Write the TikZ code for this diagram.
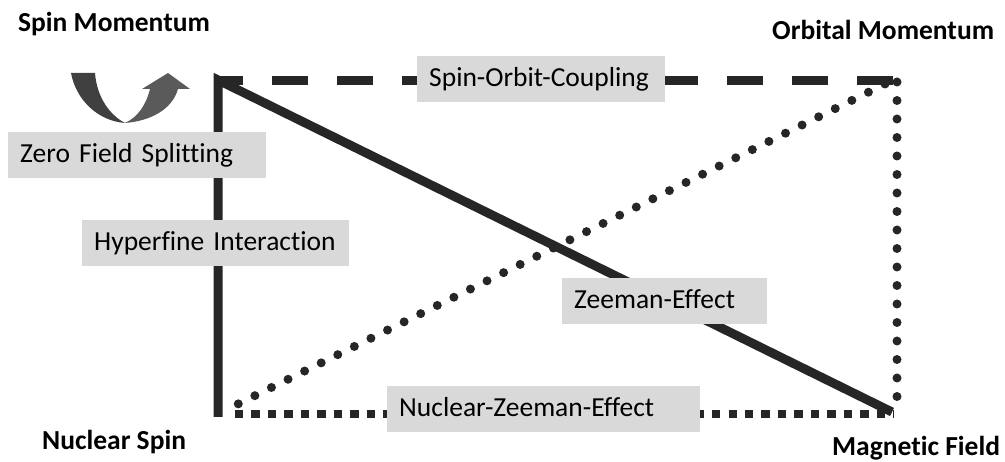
\documentclass[tikz,border=0pt]{standalone}
\usepackage{fontspec}
\setmainfont{Carlito}[Ligatures={NoCommon,NoContextual}]
\definecolor{ink}{HTML}{262626}
\definecolor{boxgray}{HTML}{D9D9D9}
\definecolor{arrowdark}{HTML}{404040}
\definecolor{arrowlight}{HTML}{5A5A5A}
\tikzset{
  labelfont/.style={font=\fontsize{27.5pt}{33pt}\selectfont},
  effectbox/.style={labelfont, fill=boxgray, anchor=west, align=left,
    inner xsep=12pt, inner ysep=0pt, minimum height=46pt,
    text height=20pt, text depth=5pt},
  corner/.style={font=\fontsize{27.5pt}{33pt}\selectfont\bfseries,
    anchor=base west, inner sep=0pt},
  solidline/.style={draw=ink, line width=9pt, line join=miter},
  dashline/.style={draw=ink, line width=9pt, dash pattern=on 36pt off 29pt},
  squaredots/.style={draw=ink, line width=8pt, dash pattern=on 8.4pt off 8.05pt},
  rounddots/.style={draw=ink, line width=9pt, line cap=round, dash pattern=on 0pt off 18.5pt},
}
\begin{document}
\begin{tikzpicture}[x=1pt, y=-1pt]
\useasboundingbox (0,0) rectangle (1005,462);

% corner points of the interaction rectangle
\coordinate (tl) at (218,80);
\coordinate (bl) at (218,417);
\coordinate (tr) at (893,81);
\coordinate (tlend) at (218,81);
\coordinate (br) at (892,412);
\coordinate (bdot) at (235,414);
\coordinate (bdotend) at (893.4,414);
\coordinate (rtop) at (897,82);
\coordinate (rbot) at (897,413);
\coordinate (dlow) at (236,405);
\coordinate (dhigh) at (885,84);

% connectors
\draw[dashline] (tr) -- (tlend);
\draw[solidline] (br) -- (tl) -- (bl);
\draw[squaredots] (bdot) -- (bdotend);
\draw[rounddots] (rtop) -- (rbot);
\draw[rounddots] (dhigh) -- (dlow);

% curved spin arrow
\fill[arrowdark] (71,73) .. controls (76,100) and (98,121) .. (125,123)
  .. controls (110,115) and (97,98) .. (95,73) -- cycle;
\fill[arrowlight] (125,123) .. controls (150,121) and (172,110) .. (178,89)
  -- (190,89) -- (168,73) -- (142,89) -- (150,89)
  .. controls (146,105) and (138,117) .. (125,123) -- cycle;

% interaction labels
\node[effectbox, text width=224pt] (soc) at (417,79) {Spin-Orbit-Coupling};
\node[effectbox, text width=234pt] (zfs) at (8,155.5) {Zero Field Splitting};
\node[effectbox, text width=243pt] (hfi) at (82,243.5) {Hyperfine Interaction};
\node[effectbox, text width=181pt] (ze) at (562,301) {Zeeman-Effect};
\node[effectbox, text width=289pt] (nze) at (387,409) {Nuclear-Zeeman-Effect};

% corner labels
\node[corner] (spin) at (18,32) {Spin Momentum};
\node[corner] (orb) at (772,39.5) {Orbital Momentum};
\node[corner] (nuc) at (42,449.5) {Nuclear Spin};
\node[corner] (mag) at (832,455.5) {Magnetic Field};
\end{tikzpicture}
\end{document}
